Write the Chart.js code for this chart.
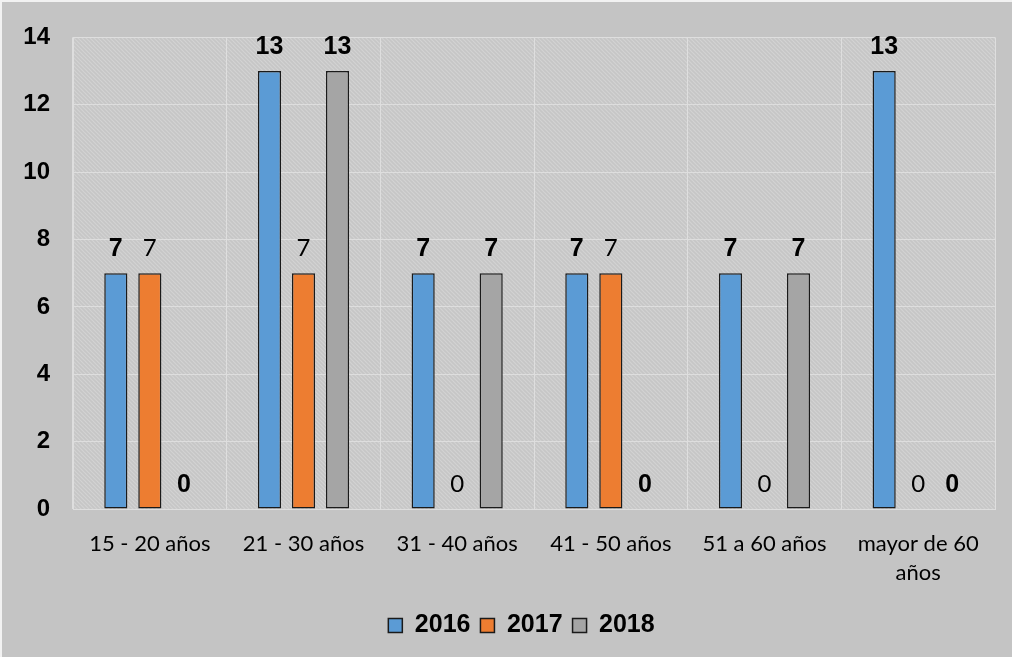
<!DOCTYPE html>
<html>
<head>
<meta charset="utf-8">
<script src="https://cdn.jsdelivr.net/npm/chart.js@4/dist/chart.umd.min.js"></script>
<style>
  html, body { margin: 0; padding: 0; background: #c4c4c4; }
  #wrap { width: 1012px; height: 657px; position: relative; }
</style>
</head>
<body>
<div id="wrap"><canvas id="grafico"></canvas></div>
<script>
// --- datos ---
const categorias = ['15 - 20 años', '21 - 30 años', '31 - 40 años', '41 - 50 años', '51 a 60 años', ['mayor de 60', 'años']];
const anios = ['2016', '2017', '2018'];
const valores2016 = [7, 13, 7, 7, 7, 13];
const valores2017 = [7, 7, 0, 7, 0, 0];
const valores2018 = [0, 13, 7, 0, 7, 0];
const ticksY = [0, 2, 4, 6, 8, 10, 12, 14];

const colores = ['#5b9bd5', '#ed7d31', '#a5a5a5'];

// trama diagonal del fondo del gráfico
const hacerTrama = () => {
    const c = document.createElement('canvas');
    c.width = 4; c.height = 4;
    const g = c.getContext('2d');
    g.fillStyle = '#c6c6c6';
    g.fillRect(0, 0, 4, 4);
    g.strokeStyle = '#d3d3d3';
    g.lineWidth = 1.2;
    g.beginPath();
    g.moveTo(-1, -1); g.lineTo(5, 5);
    g.moveTo(-1, 3); g.lineTo(1, 5);
    g.moveTo(3, -1); g.lineTo(5, 1);
    g.stroke();
    return g.createPattern(c, 'repeat');
};

const fondoPlugin = {
    id: 'fondo',
    afterLayout(chart) {
        // la leyenda del original está algo desplazada a la derecha
        chart.legend.left += 24;
        chart.legend.right += 24;
    },
    beforeDraw(chart) {
        const ctx = chart.ctx;
        const a = chart.chartArea;
        ctx.save();
        ctx.fillStyle = '#c4c4c4';
        ctx.fillRect(0, 0, chart.width, chart.height);
        ctx.fillStyle = '#f2f2f2';
        ctx.fillRect(0, 0, chart.width, 2);
        ctx.fillRect(0, 0, 2, chart.height);
        ctx.fillStyle = hacerTrama();
        ctx.fillRect(a.left, a.top, a.right - a.left, a.bottom - a.top);
        ctx.restore();
    }
};

// etiquetas de valor encima de cada barra
const etiquetasPlugin = {
    id: 'etiquetas',
    afterDatasetsDraw(chart) {
        const ctx = chart.ctx;
        ctx.save();
        ctx.textAlign = 'center';
        ctx.textBaseline = 'alphabetic';
        ctx.fillStyle = '#000';
        chart.data.datasets.forEach((ds, i) => {
            const meta = chart.getDatasetMeta(i);
            ctx.font = i === 1 ? '24px Lato, "Open Sans", sans-serif' : 'bold 25px "Liberation Sans", Arial, sans-serif';
            meta.data.forEach((bar, j) => {
                ctx.fillText(String(ds.data[j]), bar.x, bar.y - 17);
            });
        });
        ctx.restore();
    }
};

new Chart(document.getElementById('grafico'), {
    type: 'bar',
    data: {
        labels: categorias,
        datasets: [
            { label: anios[0], data: valores2016, backgroundColor: colores[0] },
            { label: anios[1], data: valores2017, backgroundColor: colores[1] },
            { label: anios[2], data: valores2018, backgroundColor: colores[2] }
        ].map(d => Object.assign(d, {
            borderColor: '#1a1a1a',
            borderWidth: 1.5,
            borderSkipped: false,
            categoryPercentage: 0.664,
            barPercentage: 0.68
        }))
    },
    options: {
        responsive: true,
        maintainAspectRatio: false,
        animation: false,
        layout: { padding: { top: 37, right: 17, bottom: 9, left: 0 } },
        plugins: {
            tooltip: { enabled: false },
            legend: {
                position: 'bottom',
                labels: {
                    color: '#000',
                    font: { family: '"Liberation Sans", Arial, sans-serif', size: 25, weight: 'bold' },
                    boxWidth: 14,
                    boxHeight: 14,
                    padding: 10
                }
            }
        },
        scales: {
            x: {
                grid: { color: '#dedede', lineWidth: 1, drawTicks: false },
                border: { color: '#dedede' },
                ticks: {
                    color: '#000',
                    padding: 21,
                    maxRotation: 0,
                    font: { family: 'Lato, "Open Sans", sans-serif', size: 22, lineHeight: 1.3 }
                },
                afterFit(scale) { scale.height = 94; }
            },
            y: {
                min: 0,
                max: 14,
                afterBuildTicks(scale) { scale.ticks = ticksY.map(v => ({ value: v })); },
                grid: { color: '#dedede', lineWidth: 1, drawTicks: false },
                border: { color: '#dedede' },
                ticks: {
                    color: '#000',
                    padding: 23,
                    font: { family: '"Liberation Sans", Arial, sans-serif', size: 24, weight: 'bold' }
                },
                afterFit(scale) { scale.width = 73; }
            }
        }
    },
    plugins: [fondoPlugin, etiquetasPlugin]
});
</script>
</body>
</html>
